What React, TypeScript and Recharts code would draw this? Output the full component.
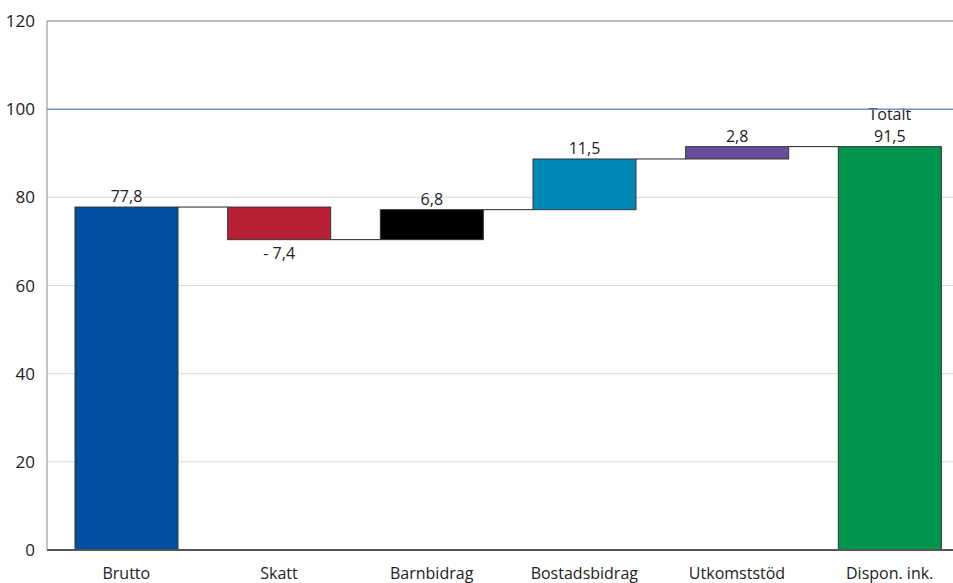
import { BarChart, Bar, XAxis, YAxis, CartesianGrid, ReferenceLine } from 'recharts';

const categories = ['Brutto', 'Skatt', 'Barnbidrag', 'Bostadsbidrag', 'Utkomststöd', 'Dispon. ink.'];
const changes = [77.8, -7.4, 6.8, 11.5, 2.8, 91.5];
const totals = [false, false, false, false, false, true];
const colors = ['#034ea2', '#b82035', '#000000', '#0088b9', '#6a4c9c', '#00954c'];
const yTicks = [0, 20, 40, 60, 80, 100, 120];

const CHART_W = 970;
const CHART_H = 583;
const MARGIN = { top: 21, right: 4, left: 0, bottom: 0 };
const Y_W = 47;
const X_PAD_LEFT = 3;
const PLOT_W = CHART_W - MARGIN.left - MARGIN.right - Y_W - X_PAD_LEFT;
const BAND = PLOT_W / categories.length;
const FONT = '"Open Sans", sans-serif';

const fmt = (v: number) => (v < 0 ? `- ${Math.abs(v).toFixed(1)}` : v.toFixed(1)).replace('.', ',');

let running = 0;
const data = categories.map((name, i) => {
  const c = changes[i];
  let base: number;
  if (totals[i]) {
    base = 0;
    running = c;
  } else {
    base = c < 0 ? running + c : running;
    running += c;
  }
  return { name, base, delta: Math.abs(c), change: c, total: totals[i], color: colors[i] };
});

const WaterfallShape = (props: any) => {
  const { x, y, width, height, payload, index } = props;
  const last = index === data.length - 1;
  const neg = payload.change < 0;
  const endY = neg ? y + height : y;
  const gap = BAND - width;
  const cx = x + width / 2;
  return (
    <g>
      <rect x={x} y={y} width={width} height={height} fill={payload.color} stroke="#333" strokeWidth={1} />
      {!last && (
        <line x1={x + width} x2={x + width + gap} y1={endY} y2={endY} stroke="#222" strokeWidth={1} />
      )}
      {payload.total ? (
        <text x={cx} textAnchor="middle" fontFamily={FONT} fontSize={16} fill="#222">
          <tspan x={cx} y={y - 27}>Totalt</tspan>
          <tspan x={cx} y={y - 5}>{fmt(payload.change)}</tspan>
        </text>
      ) : (
        <text
          x={cx}
          y={neg ? y + height + 19 : y - 5}
          textAnchor="middle"
          fontFamily={FONT}
          fontSize={16}
          fill="#222"
        >
          {fmt(payload.change)}
        </text>
      )}
    </g>
  );
};

export default function App() {
  return (
    <div style={{ position: 'absolute', left: 0, top: 0, width: 953, height: 583, overflow: 'hidden', background: '#fff' }}>
      <BarChart width={CHART_W} height={CHART_H} data={data} margin={MARGIN} barSize={103}>
        <CartesianGrid vertical={false} stroke="#d9d9d9" />
        <XAxis
          dataKey="name"
          height={33}
          tickLine={false}
          tickMargin={12}
          padding={{ left: X_PAD_LEFT, right: 0 }}
          axisLine={{ stroke: '#555', strokeWidth: 2 }}
          tick={{ fontSize: 16, fill: '#222', fontFamily: FONT }}
          interval={0}
        />
        <YAxis
          width={Y_W}
          domain={[0, 120]}
          ticks={yTicks}
          tickLine={false}
          tickMargin={6}
          axisLine={{ stroke: '#888' }}
          tick={{ fontSize: 17, fill: '#222', fontFamily: FONT }}
        />
        <ReferenceLine y={120} stroke="#888" />
        <ReferenceLine y={100} stroke="#6f95c8" strokeWidth={1.5} />
        <Bar dataKey="base" stackId="w" fill="transparent" isAnimationActive={false} />
        <Bar dataKey="delta" stackId="w" shape={WaterfallShape} isAnimationActive={false} />
      </BarChart>
    </div>
  );
}
